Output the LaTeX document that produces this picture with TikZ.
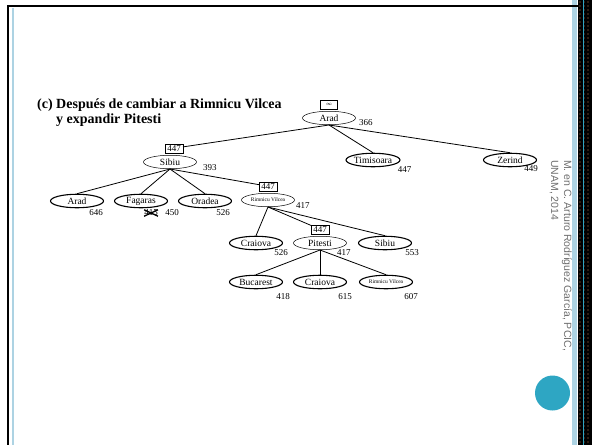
\documentclass[tikz,border=0pt]{standalone}
\usepackage{fontspec}
\setmainfont{Liberation Serif}
\setsansfont{Liberation Sans}
\usepackage{tikz}
\usetikzlibrary{positioning,shapes.geometric,calc}
\definecolor{slideblue}{RGB}{173,211,227}
\definecolor{slideteal}{RGB}{46,166,195}
\definecolor{notegray}{RGB}{110,110,110}
\definecolor{stripdot}{RGB}{95,62,40}

\begin{document}
\begin{tikzpicture}[x=1pt, y=-1pt,
  city/.style={draw, ellipse, line width=1.1pt, minimum width=53pt, minimum height=13.5pt, inner sep=0pt, font=\fontsize{9.5}{10}\selectfont},
  done/.style={city, line width=0.5pt},
  fval/.style={draw, line width=0.5pt, inner xsep=2pt, inner ysep=1.2pt, minimum height=9pt, font=\fontsize{9}{9}\selectfont},
  cost/.style={font=\fontsize{9}{9}\selectfont, inner sep=0pt},
  edge/.style={line width=0.8pt}]

% Slide frame
\useasboundingbox (0,0) rectangle (592,445);
\fill[black] (578,0) rectangle (592,445);
\foreach \x in {580,584,588}
  \foreach \y in {2,6,...,442}
    \fill[stripdot] (\x,\y) circle (0.8);
\draw[slideteal, line width=1pt] (583.5,0) -- (583.5,445);
\fill[slideblue] (572,0) rectangle (577,445);
\draw[line width=2.5pt] (578,6) -- (8,6) -- (8,445);
\draw[slideblue, line width=2pt] (12.5,8) -- (12.5,445);

% Title
\node[font=\fontsize{14}{15}\selectfont\bfseries, align=left, anchor=north west, inner sep=0pt] (title) at (37,99) {(c) Después de cambiar a Rimnicu Vilcea\\\phantom{(c)} y expandir Pitesti};

% Search tree
\node[done] (arad) at (329,118) {Arad};
\node[fval, minimum width=17pt, above=2pt of arad] (farad) {\tiny$\infty$};

\node[done] (sibiu) at (170,162) {Sibiu};
\node[fval, above=2pt of sibiu, xshift=4pt] (fsibiu) {447};
\node[city] (timisoara) at (373,160) {Timisoara};
\node[city] (zerind) at (510,160) {Zerind};

\node[city] (arad2) at (77,201) {Arad};
\node[city] (fagaras) at (141,201) {Fagaras};
\node[city] (oradea) at (205,201) {Oradea};
\node[done, font=\fontsize{5.5}{6}\selectfont] (rimnicu) at (268,200) {Rimnicu Vilcea};
\node[fval, above=2pt of rimnicu] (frimnicu) {447};

\node[city] (craiova) at (256,243) {Craiova};
\node[done] (pitesti) at (320,243) {Pitesti};
\node[fval, above=2pt of pitesti] (fpitesti) {447};
\node[city] (sibiu2) at (385,243) {Sibiu};

\node[city] (bucarest) at (256,282) {Bucarest};
\node[city] (craiova2) at (320,282) {Craiova};
\node[city, font=\fontsize{5.5}{6}\selectfont] (rimnicu2) at (386,282) {Rimnicu Vilcea};

% Branches
\draw[edge] (arad.south) -- (fsibiu);
\draw[edge] (arad.south) -- (timisoara.north);
\draw[edge] (arad.south) -- (zerind.north);
\draw[edge] (sibiu.south) -- (arad2.north);
\draw[edge] (sibiu.south) -- (fagaras.north);
\draw[edge] (sibiu.south) -- (oradea.north);
\draw[edge] (sibiu.south) -- (frimnicu);
\draw[edge] (rimnicu.south) -- (craiova.north);
\draw[edge] (rimnicu.south) -- (fpitesti);
\draw[edge] (rimnicu.south) -- (sibiu2.north);
\draw[edge] (pitesti.south) -- (bucarest.north);
\draw[edge] (pitesti.south) -- (craiova2.north);
\draw[edge] (pitesti.south) -- (rimnicu2.north);

% f-costs
\node[cost] (c-arad) at ($(arad.east)+(10,5)$) {366};
\node[cost] (c-sibiu) at ($(sibiu.east)+(13,6)$) {393};
\node[cost] (c-timisoara) at ($(timisoara.east)+(4,10)$) {447};
\node[cost] (c-zerind) at ($(zerind.east)+(-6,9)$) {449};
\node[cost] (c-arad2) at ($(arad2.east)+(-8,12)$) {646};
\node[cost] (c-fagaras-old) at ($(fagaras.east)+(-17,12)$) {415};
\draw[line width=1.3pt] (c-fagaras-old.north west) -- (c-fagaras-old.south east)
  (c-fagaras-old.south west) -- (c-fagaras-old.north east);
\node[cost] (c-fagaras) at ($(fagaras.east)+(4,12)$) {450};
\node[cost] (c-oradea) at ($(oradea.east)+(-9,12)$) {526};
\node[cost] (c-rimnicu) at ($(rimnicu.east)+(8,6)$) {417};
\node[cost] (c-craiova) at ($(craiova.east)+(-2,10)$) {526};
\node[cost] (c-pitesti) at ($(pitesti.east)+(-3,10)$) {417};
\node[cost] (c-sibiu2) at ($(sibiu2.east)+(0,10)$) {553};
\node[cost] (c-bucarest) at ($(bucarest.east)+(0,15)$) {418};
\node[cost] (c-craiova2) at ($(craiova2.east)+(-2,15)$) {615};
\node[cost] (c-rimnicu2) at ($(rimnicu2.east)+(-2,15)$) {607};

% Author note and bullet
\node[rotate=-90, anchor=north west, align=left, inner sep=0pt, text=notegray,
  font=\sffamily\fontsize{10.5}{13}\selectfont] (note) at (572,160) {M. en C. Arturo Rodríguez García, PCIC,\\UNAM, 2014};
\fill[slideteal] (552.5,393) circle (17.5);

\end{tikzpicture}
\end{document}
